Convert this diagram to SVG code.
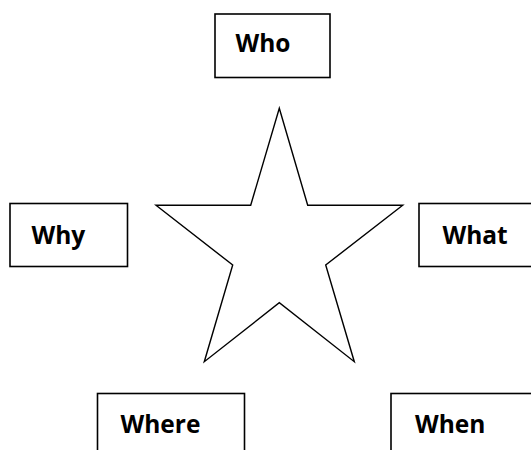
<svg xmlns="http://www.w3.org/2000/svg" width="531" height="450" viewBox="0 0 531 450">
<style>
.box{fill:#fff;stroke:#000;stroke-width:1.6}
.lbl{font-family:"Open Sans","Noto Sans",sans-serif;font-weight:bold;font-size:24.5px;fill:#000}
.star{fill:#fff;stroke:#000;stroke-width:1.4;stroke-linejoin:miter}
</style>
<rect width="531" height="450" fill="#fff"/>
<g id="star">
<polygon class="star" points="279.3,108.3 307.7,205.3 402.7,205.3 325.7,265 354.3,361.7 279.3,302.7 204.3,361.7 232.7,265 156,205.3 250.7,205.3"/>
</g>
<g id="connectors"></g>
<g id="who"><rect class="box" x="215" y="14" width="115" height="63.5"/><text class="lbl" x="235.5" y="51.7">Who</text></g>
<g id="why"><rect class="box" x="10" y="203.5" width="117.5" height="63"/><text class="lbl" x="31.5" y="243.5">Why</text></g>
<g id="what"><rect class="box" x="419" y="203.5" width="125" height="63"/><text class="lbl" x="442.5" y="243.5">What</text></g>
<g id="where"><rect class="box" x="97.5" y="393.5" width="147" height="70"/><text class="lbl" x="120.5" y="432.7">Where</text></g>
<g id="when"><rect class="box" x="391" y="393.5" width="150" height="70"/><text class="lbl" x="415" y="432.7">When</text></g>
</svg>
